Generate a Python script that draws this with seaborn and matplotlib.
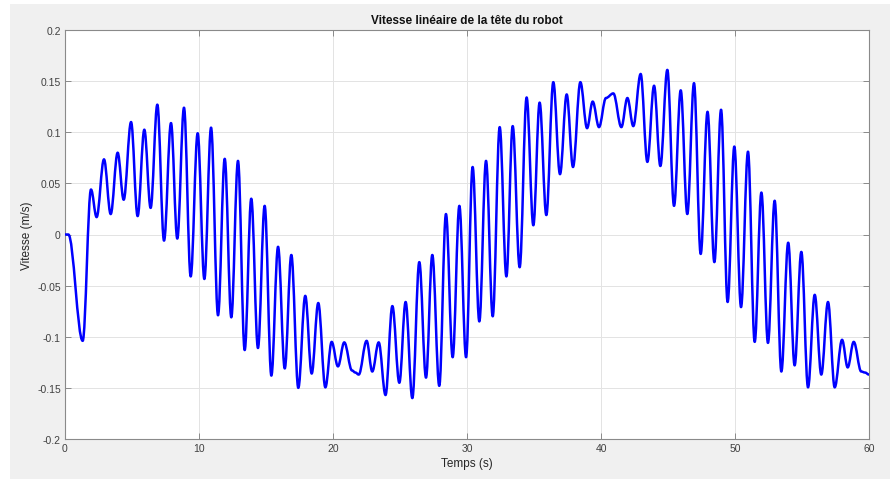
import numpy as np
import pandas as pd
import matplotlib
matplotlib.use("Agg")
import matplotlib.pyplot as plt
from matplotlib.patches import Rectangle, PathPatch
from matplotlib.path import Path
import seaborn as sns

# local extrema of the signal (s, m/s)
temps = [0, 0.25, 1.32,
         1.94, 2.36, 2.91, 3.41, 3.93, 4.38, 4.93, 5.42, 5.92,
         6.39, 6.89, 7.39, 7.91, 8.38, 8.88, 9.38, 9.90, 10.40, 10.90,
         11.42, 11.92, 12.41, 12.91, 13.41, 13.90, 14.40, 14.90, 15.40, 15.90,
         16.40, 16.89, 17.41, 17.93, 18.41, 18.90, 19.43, 19.90, 20.37, 20.84,
         21.42, 21.67, 21.92, 22.51, 22.93, 23.41, 23.92, 24.43, 24.95, 25.42,
         25.92, 26.44, 26.94, 27.41, 27.93, 28.43, 28.93, 29.43, 29.93, 30.42,
         30.92, 31.42, 31.92, 32.44, 32.94, 33.41, 33.93, 34.45, 34.95, 35.42,
         35.92, 36.44, 36.94, 37.44, 37.91, 38.46, 38.96, 39.38, 39.85, 40.37,
         40.92, 41.52, 41.97, 42.41, 42.96, 43.46, 43.96, 44.43, 44.95, 45.45,
         45.95, 46.44, 46.94, 47.44, 47.95, 48.46, 48.96, 49.45, 49.95, 50.45,
         50.97, 51.47, 51.97, 52.46, 52.96, 53.46, 53.97, 54.45, 54.95, 55.45,
         55.95, 56.44, 56.94, 57.44, 57.99, 58.41, 58.86, 59.42, 59.7, 60]

vitesse = [0, 0.0, -0.104,
           0.044, 0.017, 0.0735, 0.020, 0.080, 0.034, 0.110, 0.018, 0.1025,
           0.026, 0.127, -0.006, 0.109, -0.004, 0.124, -0.041, 0.099, -0.0435, 0.1045,
           -0.079, 0.074, -0.081, 0.072, -0.113, 0.035, -0.111, 0.028, -0.138, -0.012,
           -0.131, -0.020, -0.150, -0.060, -0.136, -0.067, -0.1495, -0.105, -0.129, -0.1055,
           -0.133, -0.135, -0.137, -0.104, -0.134, -0.1055, -0.157, -0.070, -0.145, -0.066,
           -0.160, -0.027, -0.140, -0.020, -0.148, 0.020, -0.120, 0.028, -0.120, 0.066,
           -0.085, 0.072, -0.080, 0.105, -0.041, 0.106, -0.032, 0.134, 0.009, 0.129,
           0.019, 0.149, 0.059, 0.137, 0.066, 0.149, 0.104, 0.130, 0.105, 0.1335,
           0.138, 0.105, 0.1335, 0.106, 0.157, 0.071, 0.1455, 0.067, 0.161, 0.028,
           0.141, 0.020, 0.148, -0.019, 0.120, -0.027, 0.122, -0.066, 0.086, -0.071,
           0.081, -0.105, 0.041, -0.106, 0.033, -0.134, -0.008, -0.128, -0.017, -0.1495,
           -0.059, -0.137, -0.066, -0.1495, -0.103, -0.130, -0.105, -0.134, -0.135, -0.137]

x_ticks = [0, 10, 20, 30, 40, 50, 60]
y_ticks = [-0.2, -0.15, -0.1, -0.05, 0, 0.05, 0.1, 0.15, 0.2]
y_tick_labels = ["-0.2", "-0.15", "-0.1", "-0.05", "0", "0.05", "0.1", "0.15", "0.2"]

sns.set_theme(style="whitegrid")
plt.rcParams['font.family'] = ['Liberation Sans', 'DejaVu Sans']

df = pd.DataFrame({"t": temps, "v": vitesse})

fig = plt.figure(figsize=(8.91, 4.81), dpi=100, facecolor="white")
# matlab-like grey figure panel
fig.patches.append(Rectangle((10 / 891, 1 / 481), 880 / 891, 475 / 481,
                             transform=fig.transFigure, facecolor="#f0f0f0",
                             edgecolor="none", zorder=-10))
ax = fig.add_axes([65 / 891, 41 / 481, 804 / 891, 409 / 481])
ax.set_facecolor("white")

# smooth curve through the extrema: cubic segments with flat tangents at each point
k = 0.364
verts = [(df.t[0], df.v[0])]
codes = [Path.MOVETO]
for i in range(1, len(df)):
    t0, v0, t1, v1 = df.t[i - 1], df.v[i - 1], df.t[i], df.v[i]
    dt = t1 - t0
    verts += [(t0 + k * dt, v0), (t1 - k * dt, v1), (t1, v1)]
    codes += [Path.CURVE4] * 3
ax.add_patch(PathPatch(Path(verts, codes), facecolor="none", edgecolor="#0000ff",
                       linewidth=1.8, capstyle="round", joinstyle="round", zorder=3))

ax.set_xlim(0, 60)
ax.set_ylim(-0.2, 0.2)
ax.set_xticks(x_ticks)
ax.set_yticks(y_ticks)
ax.set_yticklabels(y_tick_labels)
ax.grid(True, color="#e3e3e3", linewidth=0.7)
for s in ax.spines.values():
    s.set_visible(True)
    s.set_color("#8a8a8a")
    s.set_linewidth(0.8)
ax.tick_params(direction="in", length=4, width=0.7, color="#8a8a8a",
               labelcolor="#404040", labelsize=7.5, top=True, right=True,
               bottom=True, left=True, pad=3)

ax.set_title("Vitesse linéaire de la tête du robot", fontsize=8.5,
             fontweight="bold", color="#111111", pad=5)
ax.set_xlabel("Temps (s)", fontsize=8.5, color="#262626", labelpad=3)
ax.set_ylabel("Vitesse (m/s)", fontsize=8.5, color="#262626", labelpad=3)

fig.savefig("out.png", dpi=100, facecolor="white")
